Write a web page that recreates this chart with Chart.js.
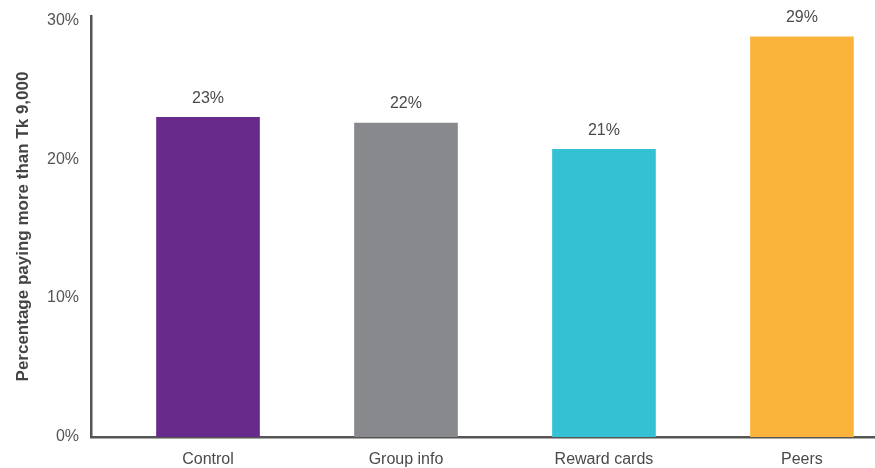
<!DOCTYPE html>
<html>
<head>
<meta charset="utf-8">
<script src="https://cdn.jsdelivr.net/npm/chart.js@4.4.1/dist/chart.umd.min.js"></script>
<style>
  html, body { margin: 0; padding: 0; background: #ffffff; overflow: hidden; }
  #wrap { width: 875px; height: 468px; position: relative; }
</style>
</head>
<body>
<div id="wrap"><canvas id="c" width="875" height="468"></canvas></div>
<script>
const categories = ["Control", "Group info", "Reward cards", "Peers"];
const values = [23.0, 22.6, 20.7, 28.8];
const valueTexts = ["23%", "22%", "21%", "29%"];
const barColors = ["#672C8B", "#87898D", "#33C1D3", "#FAB43C"];
const yTicks = [0, 10, 20, 30];
const yTitle = "Percentage paying more than Tk 9,000";

const valueLabels = {
  id: "valueLabels",
  afterDatasetsDraw(chart) {
    const ctx = chart.ctx;
    const meta = chart.getDatasetMeta(0);
    ctx.save();
    ctx.font = "16px 'Liberation Sans', Arial, sans-serif";
    ctx.fillStyle = "#4a4a4a";
    ctx.textAlign = "center";
    ctx.textBaseline = "middle";
    meta.data.forEach((bar, i) => {
      ctx.fillText(valueTexts[i], bar.x, bar.y - 19);
    });
    ctx.restore();
  }
};

new Chart(document.getElementById("c"), {
  type: "bar",
  data: {
    datasets: [{
      data: categories.map((c, i) => ({ x: i, y: values[i] })),
      backgroundColor: barColors,
      borderWidth: 0,
      barThickness: 103
    }]
  },
  options: {
    responsive: false,
    animation: false,
    events: [],
    layout: { padding: { top: 16, right: 0, left: 0, bottom: 0 } },
    plugins: { legend: { display: false }, tooltip: { enabled: false } },
    scales: {
      x: {
        type: "linear",
        offset: false,
        min: -0.591,
        max: 3.369,
        afterBuildTicks: s => { s.ticks = categories.map((c, i) => ({ value: i })); },
        afterFit: s => { s.height = 31; },
        grid: { display: false, drawTicks: false, offset: false },
        border: { display: true, color: "#555555", width: 2.5 },
        ticks: {
          autoSkip: false,
          maxRotation: 0,
          padding: 13,
          color: "#4a4a4a",
          font: { family: "'Liberation Sans', Arial, sans-serif", size: 16 },
          callback: v => categories[v] ?? ""
        }
      },
      y: {
        min: 0,
        max: 30.3,
        afterBuildTicks: s => { s.ticks = yTicks.map(v => ({ value: v })); },
        afterFit: s => { s.width = 91; s.paddingTop = 0; s.paddingBottom = 0; },
        grid: { display: false, drawTicks: false },
        border: { display: true, color: "#555555", width: 2.5 },
        ticks: {
          padding: 12,
          color: "#555555",
          font: { family: "'Liberation Sans', Arial, sans-serif", size: 16 },
          callback: v => v + "%"
        },
        title: {
          display: true,
          text: yTitle,
          color: "#444444",
          font: { family: "'Liberation Sans', Arial, sans-serif", size: 17, weight: "bold" },
          padding: { top: 13, bottom: 0 }
        }
      }
    }
  },
  plugins: [valueLabels]
});
</script>
</body>
</html>
